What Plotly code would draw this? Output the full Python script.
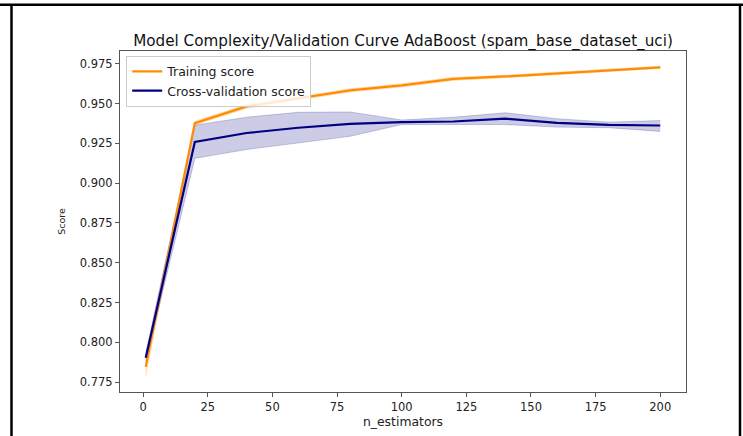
import plotly.graph_objects as go

n_estimators = [1, 20, 40, 60, 80, 100, 120, 140, 160, 180, 200]
train_mean = [0.7846, 0.9377, 0.9482, 0.9531, 0.9583, 0.9614, 0.9655, 0.9670, 0.9690, 0.9709, 0.9727]
train_std = [0.0060, 0.0012, 0.0012, 0.0010, 0.0010, 0.0010, 0.0010, 0.0008, 0.0008, 0.0008, 0.0007]
cv_mean = [0.7903, 0.9259, 0.9315, 0.9348, 0.9372, 0.9383, 0.9387, 0.9405, 0.9379, 0.9366, 0.9362]
cv_upper = [0.7930, 0.9364, 0.9414, 0.9445, 0.9447, 0.9397, 0.9414, 0.9442, 0.9405, 0.9383, 0.9393]
cv_lower = [0.7876, 0.9156, 0.9211, 0.9253, 0.9294, 0.9368, 0.9368, 0.9368, 0.9352, 0.9348, 0.9325]

x_ticks = [0, 25, 50, 75, 100, 125, 150, 175, 200]
y_ticks = [0.775, 0.800, 0.825, 0.850, 0.875, 0.900, 0.925, 0.950, 0.975]

ORANGE = "#FF8C00"
NAVY = "#000080"
FONT = "DejaVu Sans"

fig = go.Figure()

train_up = [m + s for m, s in zip(train_mean, train_std)]
train_lo = [m - s for m, s in zip(train_mean, train_std)]

fig.add_trace(go.Scatter(x=n_estimators, y=train_lo, mode="lines",
                         line=dict(color="rgba(255,140,0,0.2)", width=1),
                         showlegend=False, hoverinfo="skip"))
fig.add_trace(go.Scatter(x=n_estimators, y=train_up, mode="lines", fill="tonexty",
                         fillcolor="rgba(255,140,0,0.2)",
                         line=dict(color="rgba(255,140,0,0.2)", width=1),
                         showlegend=False, hoverinfo="skip"))
fig.add_trace(go.Scatter(x=n_estimators, y=cv_lower, mode="lines",
                         line=dict(color="rgba(0,0,128,0.2)", width=1),
                         showlegend=False, hoverinfo="skip"))
fig.add_trace(go.Scatter(x=n_estimators, y=cv_upper, mode="lines", fill="tonexty",
                         fillcolor="rgba(0,0,128,0.2)",
                         line=dict(color="rgba(0,0,128,0.2)", width=1),
                         showlegend=False, hoverinfo="skip"))
fig.add_trace(go.Scatter(x=n_estimators, y=train_mean, mode="lines",
                         line=dict(color=ORANGE, width=2.2), name="Training score"))
fig.add_trace(go.Scatter(x=n_estimators, y=cv_mean, mode="lines",
                         line=dict(color=NAVY, width=2.2), name="Cross-validation score"))

# outer black frame (screenshot border)
for x0, y0, x1, y1 in [(-0.1917, 1.1358, -0.1917, -0.2),
                       (1.0954, 1.1358, 1.0954, -0.2),
                       (-0.25, 1.1358, 1.2, 1.1358)]:
    fig.add_shape(type="line", xref="paper", yref="paper",
                  x0=x0, y0=y0, x1=x1, y1=y1,
                  line=dict(color="black", width=2.5))

fig.update_layout(
    width=743, height=436,
    margin=dict(l=120, r=57, t=51, b=39),
    paper_bgcolor="white", plot_bgcolor="white",
    font=dict(family=FONT, color="#222", size=11),
    title=dict(text="Model Complexity/Validation Curve AdaBoost (spam_base_dataset_uci)",
               x=0.5, xref="paper", xanchor="center",
               y=1 - 41 / 436, yref="container", yanchor="middle",
               font=dict(family=FONT, size=15.2, color="#111")),
    legend=dict(x=0.011, y=0.986, xanchor="left", yanchor="top",
                bgcolor="rgba(255,255,255,0.8)", bordercolor="#ccc", borderwidth=1,
                font=dict(family=FONT, size=12.5, color="#222"),
                traceorder="normal", tracegroupgap=0, itemwidth=30),
    showlegend=True,
)

fig.update_xaxes(range=[-8.95, 209.95], tickvals=x_ticks, ticktext=[str(v) for v in x_ticks],
                 showgrid=False, zeroline=False, showline=True, mirror=True,
                 linecolor="#555", linewidth=1, ticks="outside", ticklen=4,
                 tickcolor="#555", tickfont=dict(size=11.5),
                 title=dict(text="n_estimators", font=dict(size=12.4), standoff=2))
fig.update_yaxes(range=[0.7688, 0.983], tickvals=y_ticks,
                 ticktext=["%.3f" % v for v in y_ticks],
                 showgrid=False, zeroline=False, showline=True, mirror=True,
                 linecolor="#555", linewidth=1, ticks="outside", ticklen=4,
                 tickcolor="#555", tickfont=dict(size=11.5),
                 title=dict(text="Score", font=dict(size=9.5, color="#222"), standoff=12))

fig.write_html("out.html")
